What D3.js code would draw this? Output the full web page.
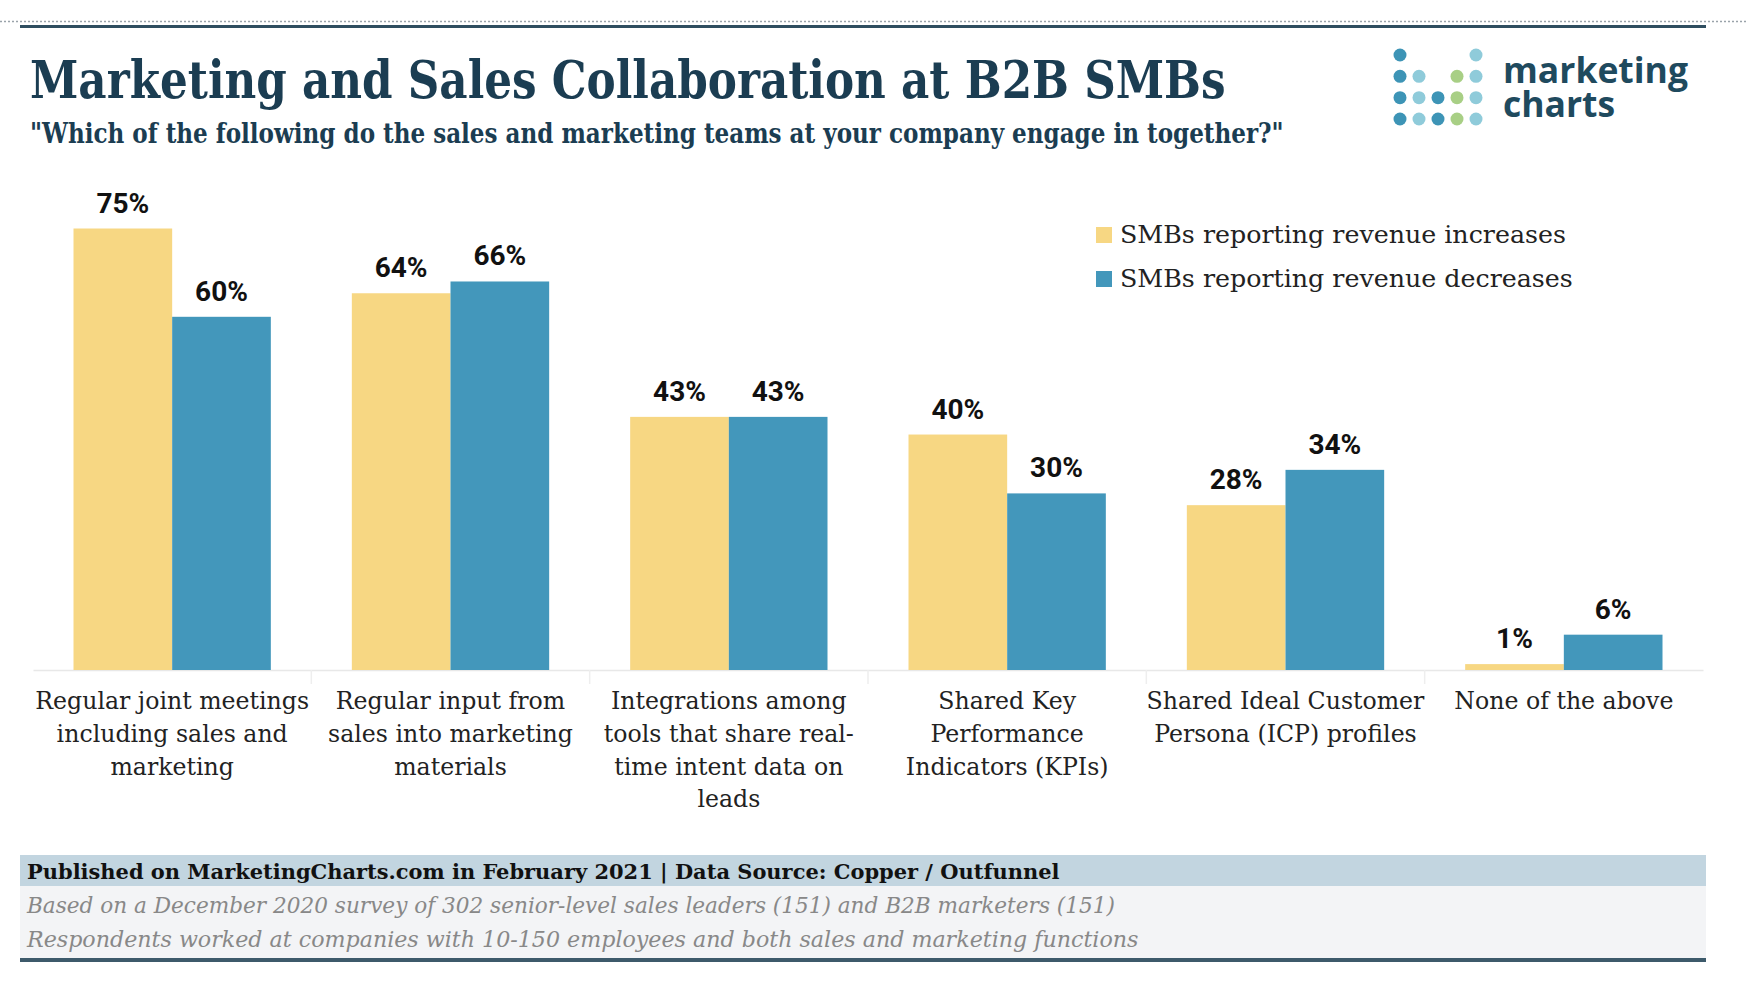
<!DOCTYPE html>
<html><head><meta charset="utf-8">
<script src="https://cdn.jsdelivr.net/npm/d3@7"></script>
<style>
html,body{margin:0;padding:0;background:#fff;}
svg{display:block;}
</style></head>
<body>
<svg id="chart" width="1748" height="988"></svg>
<script>
// ---- data ----
const categories = ["meetings","input","integrations","kpis","icp","none"];
const categoryLabels = [
  ["Regular joint meetings","including sales and","marketing"],
  ["Regular input from","sales into marketing","materials"],
  ["Integrations among","tools that share real-","time intent data on","leads"],
  ["Shared Key","Performance","Indicators (KPIs)"],
  ["Shared Ideal Customer","Persona (ICP) profiles"],
  ["None of the above"]
];
const seriesNames = ["SMBs reporting revenue increases","SMBs reporting revenue decreases"];
const increases = [75,64,43,40,28,1];
const decreases = [60,66,43,30,34,6];
const titleText = "Marketing and Sales Collaboration at B2B SMBs";
const subtitleText = "\"Which of the following do the sales and marketing teams at your company engage in together?\"";
const footerLines = [
  "Published on MarketingCharts.com in February 2021 | Data Source: Copper / Outfunnel",
  "Based on a December 2020 survey of 302 senior-level sales leaders (151) and B2B marketers (151)",
  "Respondents worked at companies with 10-150 employees and both sales and marketing functions"
];
// logo dot grid: rows of 5 columns, 0 = none, 1 = dark teal, 2 = light teal, 3 = green
const logoDots = [
  [1,0,0,0,2],
  [1,2,0,3,2],
  [1,2,1,3,2],
  [1,2,1,3,2]
];

// ---- styles ----
const COL_INC = "#f7d783", COL_DEC = "#4397bb", NAVY = "#1b3d52";
const SERIF = "'DejaVu Serif Condensed','DejaVu Serif',serif";
const CAP = 0.729; // DejaVu Serif cap-height ratio
const svg = d3.select("#chart");

function fitSize(text, weight, style, target){
  const t = svg.append("text").attr("font-family",SERIF).attr("font-weight",weight)
    .attr("font-style",style).attr("font-size",100).style("font-stretch","condensed").text(text);
  const w = t.node().getComputedTextLength(); t.remove();
  return 100 * target / w;
}
function vscale(fs, capTarget){
  return Math.max(0.85, Math.min(1.35, capTarget / (CAP * fs)));
}
// single line serif text fitted to width and cap height
function serifLine(text, x, y, width, cap, weight, style, fill){
  const fs = fitSize(text, weight, style, width);
  const k = vscale(fs, cap);
  return svg.append("text").attr("transform",`translate(${x},${y}) scale(1,${k})`)
    .attr("font-family",SERIF).style("font-stretch","condensed")
    .attr("font-weight",weight).attr("font-style",style).attr("font-size",fs)
    .attr("fill",fill).text(text);
}

// top rules
svg.append("line").attr("x1",0).attr("x2",1748).attr("y1",21.5).attr("y2",21.5)
  .attr("stroke","#9aa3aa").attr("stroke-width",1.5).attr("stroke-dasharray","2,2");
svg.append("rect").attr("x",20).attr("y",25).attr("width",1686).attr("height",3).attr("fill","#2f4e60");

// title + subtitle
serifLine(titleText, 30, 98, 1196, 38, 700, "normal", NAVY);
serifLine(subtitleText, 30, 143, 1254, 20, 700, "normal", NAVY);

// logo
const lx = d3.scaleLinear().domain([0,4]).range([1400,1476]);
const ly = d3.scaleLinear().domain([0,3]).range([55,119]);
const dotCol = {1:"#3d94b6",2:"#8fcbda",3:"#a8cf85"};
logoDots.forEach((row,r)=>row.forEach((v,c)=>{
  if(v) svg.append("circle").attr("cx",lx(c)).attr("cy",ly(r)).attr("r",6.5).attr("fill",dotCol[v]);
}));
const logo = svg.append("text").attr("font-family","'Open Sans',sans-serif")
  .attr("font-weight",700).attr("font-size",36).attr("fill","#1f4a5e");
const lt1 = logo.append("tspan").attr("x",1503).attr("y",83).text("marketing");
const lw = lt1.node().getComputedTextLength();
const lfs = 36*185/lw;
logo.attr("font-size",lfs);
logo.append("tspan").attr("x",1503).attr("y",117).text("charts");

// scales
const x0 = d3.scaleBand().domain(categories).range([33,1703]).padding(0);
const bw = x0.bandwidth();
const x1 = d3.scaleBand().domain(["inc","dec"]).range([40.5, bw-40.5]).padding(0);
const y = d3.scaleLinear().domain([0,75]).range([670,228.5]);

// axis baseline + separators
const axis = svg.append("g").attr("transform","translate(0,670)")
  .call(d3.axisBottom(x0).tickSize(0).tickFormat(""));
axis.select(".domain").attr("stroke","#e8e8e8").attr("stroke-width",1.5);
svg.append("g").selectAll("line").data(categories.slice(1)).join("line")
  .attr("x1",d=>x0(d)).attr("x2",d=>x0(d)).attr("y1",670).attr("y2",684)
  .attr("stroke","#eeeeee").attr("stroke-width",1.5);

// bars
const rows = categories.map((c,i)=>({c, vals:[{k:"inc",v:increases[i]},{k:"dec",v:decreases[i]}]}));
const g = svg.append("g").selectAll("g").data(rows).join("g").attr("transform",d=>`translate(${x0(d.c)},0)`);
g.selectAll("rect").data(d=>d.vals).join("rect")
  .attr("x",d=>x1(d.k)).attr("width",x1.bandwidth())
  .attr("y",d=>y(d.v)).attr("height",d=>670-y(d.v))
  .attr("fill",d=>d.k==="inc"?COL_INC:COL_DEC);
g.selectAll("text.val").data(d=>d.vals).join("text").attr("class","val")
  .attr("x",d=>x1(d.k)+x1.bandwidth()/2).attr("y",d=>y(d.v)-16)
  .attr("text-anchor","middle").attr("font-family","Roboto,sans-serif").attr("font-weight",700)
  .attr("font-size",28).attr("fill","#111").text(d=>d.v+"%");

// category labels
const catFs = fitSize("Regular joint meetings", 400, "normal", 274);
const catK = vscale(catFs, 17);
categoryLabels.forEach((lines,i)=>{
  const cx = x0(categories[i])+bw/2;
  const t = svg.append("text").attr("transform",`translate(${cx},709) scale(1,${catK})`)
    .attr("text-anchor","middle").attr("font-family",SERIF).style("font-stretch","condensed")
    .attr("font-size",catFs).attr("fill","#222");
  lines.forEach((l,j)=>t.append("tspan").attr("x",0).attr("y",j*32.8/catK).text(l));
});

// legend
const legFs = fitSize(seriesNames[0], 400, "normal", 446);
const legK = vscale(legFs, 18);
seriesNames.forEach((s,i)=>{
  const yy = 243 + i*44;
  svg.append("rect").attr("x",1096).attr("y",yy-16).attr("width",16).attr("height",16)
    .attr("fill",i===0?COL_INC:COL_DEC);
  svg.append("text").attr("transform",`translate(1120,${yy}) scale(1,${legK})`)
    .attr("font-family",SERIF).style("font-stretch","condensed")
    .attr("font-size",legFs).attr("fill","#222").text(s);
});

// footer
svg.append("rect").attr("x",20).attr("y",855).attr("width",1686).attr("height",31).attr("fill","#c2d5e0");
svg.append("rect").attr("x",20).attr("y",886).attr("width",1686).attr("height",72).attr("fill","#f3f4f6");
svg.append("rect").attr("x",20).attr("y",958).attr("width",1686).attr("height",4).attr("fill","#3d5a6b");
serifLine(footerLines[0], 27, 879, 1033, 15, 700, "normal", "#111");
serifLine(footerLines[1], 27, 913, 1088, 16, 400, "italic", "#888");
serifLine(footerLines[2], 27, 947, 1112, 16, 400, "italic", "#888");
</script>
</body></html>
